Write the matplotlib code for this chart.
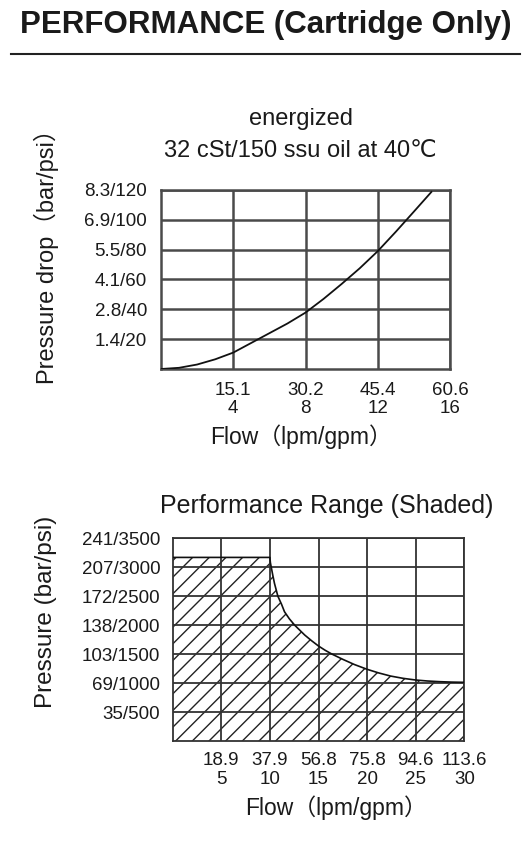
import numpy as np
import matplotlib
matplotlib.use('Agg')
from matplotlib import pyplot as plt
from matplotlib.lines import Line2D

plt.rcParams['font.family'] = ['Liberation Sans', 'DejaVu Sans', 'Noto Sans CJK SC']
plt.rcParams['hatch.linewidth'] = 1.0

# pressure drop curve (energized), flow in gpm vs pressure drop in psi
drop_gpm = [0, 1, 2, 3, 4, 5, 6, 7, 8, 9, 10, 11, 12, 13, 14, 14.97]
drop_psi = [0, 0.8, 3, 6.5, 11, 17.5, 24, 30.5, 37.8, 47, 57, 67.5, 79, 92, 105.5, 118.7]
drop_xticks = [4, 8, 12, 16]
drop_xlabels = ['15.1\n4', '30.2\n8', '45.4\n12', '60.6\n16']
drop_yticks = [20, 40, 60, 80, 100, 120]
drop_ylabels = ['1.4/20', '2.8/40', '4.1/60', '5.5/80', '6.9/100', '8.3/120']

# performance range boundary, flow in gpm vs pressure in psi
range_gpm = [0, 10, 10.05, 10.13, 10.3, 10.47, 10.82, 11.2, 11.5, 12, 12.55, 13.05, 13.58,
             14.3, 15, 15.7, 16.39, 17.5, 18.7, 20, 21.2, 22.4, 23.7, 25, 26.2, 27.5, 28.7, 30]
range_psi = [3170, 3170, 3080, 3009, 2860, 2722, 2500, 2360, 2232, 2110, 2000, 1917, 1830,
             1730, 1640, 1565, 1500, 1410, 1320, 1238, 1175, 1122, 1082, 1053, 1036, 1024, 1017, 1013]
range_xticks = [5, 10, 15, 20, 25, 30]
range_xlabels = ['18.9\n5', '37.9\n10', '56.8\n15', '75.8\n20', '94.6\n25', '113.6\n30']
range_yticks = [500, 1000, 1500, 2000, 2500, 3000, 3500]
range_ylabels = ['35/500', '69/1000', '103/1500', '138/2000', '172/2500', '207/3000', '241/3500']

W, H = 532, 846
TXT = '#1a1a1a'


def px(x, y):
    """pixel position (from top left) to figure coords"""
    return x / W, 1 - y / H


def style_axes(ax, color, lw):
    for sp in ax.spines.values():
        sp.set_color(color)
        sp.set_linewidth(lw)
    ax.grid(True, color=color, linewidth=lw)
    ax.set_axisbelow(False)


fig = plt.figure(figsize=(W / 100, H / 100), dpi=100)

# header
fig.text(*px(266, 33), 'PERFORMANCE (Cartridge Only)', fontsize=22.5, fontweight='bold',
         ha='center', va='baseline', color=TXT)
fig.add_artist(Line2D([11 / W, 520 / W], [1 - 54.5 / H] * 2, transform=fig.transFigure,
                      color='#222222', linewidth=1.5))

# top chart: pressure drop
ax1 = fig.add_axes([161 / W, 1 - 369 / H, 289 / W, 179 / H])
ax1.plot(drop_gpm, drop_psi, color='#111111', linewidth=1.3, zorder=3)
ax1.set_xlim(0, 16)
ax1.set_ylim(0, 120)
ax1.set_xticks(drop_xticks)
ax1.set_xticklabels(drop_xlabels)
ax1.set_yticks(drop_yticks)
ax1.set_yticklabels(drop_ylabels)
ax1.tick_params(length=0, labelsize=13.5, labelcolor=TXT)
ax1.tick_params(axis='x', pad=9)
ax1.tick_params(axis='y', pad=10)
for lbl in ax1.get_xticklabels():
    lbl.set_linespacing(1.15)
style_axes(ax1, '#4a4a4a', 1.8)

fig.text(*px(301, 125), 'energized', fontsize=17, ha='center', va='baseline', color=TXT)
fig.text(*px(300, 157), '32 cSt/150 ssu oil at 40℃', fontsize=17, ha='center', va='baseline', color=TXT)
fig.text(*px(46, 251), 'Pressure drop（bar/psi）', fontsize=17, rotation=90,
         ha='center', va='center', color=TXT)
fig.text(*px(301, 444), 'Flow（lpm/gpm）', fontsize=16.5, ha='center', va='baseline', color=TXT)

# bottom chart: performance range
ax2 = fig.add_axes([172.7 / W, 1 - 741 / H, 291.6 / W, 202.7 / H])
ax2.fill_between(range_gpm, 0, range_psi, facecolor='none', edgecolor='#222222',
                 hatch='//', linewidth=0, zorder=1)
ax2.plot(range_gpm, range_psi, color='#111111', linewidth=1.2, zorder=3)
ax2.set_xlim(0, 30)
ax2.set_ylim(0, 3500)
ax2.set_xticks(range_xticks)
ax2.set_xticklabels(range_xlabels)
ax2.set_yticks(range_yticks)
ax2.set_yticklabels(range_ylabels)
ax2.tick_params(length=0, labelsize=13.5, labelcolor=TXT)
ax2.tick_params(axis='x', pad=8)
ax2.tick_params(axis='y', pad=9)
for lbl in ax2.get_xticklabels():
    lbl.set_linespacing(1.15)
style_axes(ax2, '#333333', 1.3)

fig.text(*px(327, 513), 'Performance Range (Shaded)', fontsize=18, ha='center', va='baseline', color=TXT)
fig.text(*px(46, 612), 'Pressure (bar/psi)', fontsize=17.5, rotation=90,
         ha='center', va='center', color=TXT)
fig.text(*px(336, 815), 'Flow（lpm/gpm）', fontsize=16.5, ha='center', va='baseline', color=TXT)

fig.savefig('out.png', dpi=100, facecolor='white')
